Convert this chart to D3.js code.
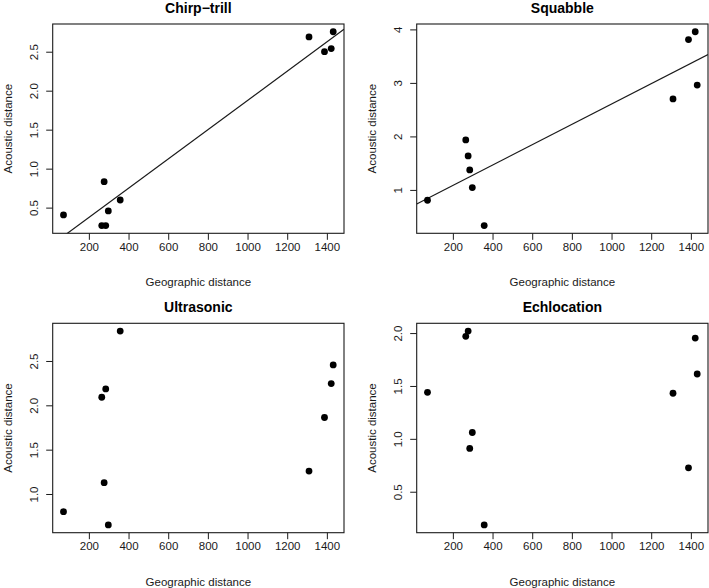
<!DOCTYPE html>
<html>
<head>
<meta charset="utf-8">
<script src="https://cdn.jsdelivr.net/npm/d3@7"></script>
<style>
  html, body { margin: 0; padding: 0; background: #fff; }
  svg { display: block; font-family: "Liberation Sans", Arial, Helvetica, sans-serif; }
</style>
</head>
<body>
<svg id="chart" width="709" height="588"></svg>
<script>
// Geographic distances (shared by all panels)
const geoDist = [72, 265, 277, 285, 298, 358, 1310, 1388, 1422, 1432];

// Acoustic distances per call type
const chirpTrill = [0.406, 0.27, 0.833, 0.27, 0.457, 0.598, 2.69, 2.50, 2.54, 2.756];
const squabble   = [0.807, 1.934, 1.635, 1.373, 1.044, 0.334, 2.70, 3.81, 3.956, 2.96];
const ultrasonic = [0.801, 2.091, 1.128, 2.185, 0.651, 2.8375, 1.259, 1.8625, 2.245, 2.455];
const echlocation = [1.44, 1.969, 2.019, 0.909, 1.060, 0.186, 1.431, 0.726, 1.953, 1.613];

const panelTitles = ["Chirp\u2212trill", "Squabble", "Ultrasonic", "Echlocation"];
const xTicks = [200, 400, 600, 800, 1000, 1200, 1400];
const yTicksChirp = [0.5, 1.0, 1.5, 2.0, 2.5];
const yTicksSquabble = [1, 2, 3, 4];
const yTicksUltra = [1.0, 1.5, 2.0, 2.5];
const yTicksEcho = [0.5, 1.0, 1.5, 2.0];
const showFit = [true, true, false, false];
const xLabel = "Geographic distance";
const yLabel = "Acoustic distance";

const panels = [
  { title: panelTitles[0], y: chirpTrill, yTicks: yTicksChirp, fmt: d3.format(".1f"), fit: showFit[0] },
  { title: panelTitles[1], y: squabble, yTicks: yTicksSquabble, fmt: d3.format("d"), fit: showFit[1] },
  { title: panelTitles[2], y: ultrasonic, yTicks: yTicksUltra, fmt: d3.format(".1f"), fit: showFit[2] },
  { title: panelTitles[3], y: echlocation, yTicks: yTicksEcho, fmt: d3.format(".1f"), fit: showFit[3] }
];

const boxes = [
  { x0: 52.7, x1: 344.0, y0: 24.0, y1: 233.3 },
  { x0: 416.7, x1: 708.0, y0: 24.0, y1: 233.3 },
  { x0: 52.7, x1: 344.0, y0: 323.3, y1: 532.7 },
  { x0: 416.7, x1: 708.0, y0: 323.3, y1: 532.7 }
];

function rExtent(v) {
  const [mn, mx] = d3.extent(v);
  const pad = (mx - mn) * 0.04;
  return [mn - pad, mx + pad];
}

const svg = d3.select("#chart");
const ink = "#1a1a1a";

panels.forEach((p, i) => {
  const b = boxes[i];
  const x = d3.scaleLinear().domain(rExtent(geoDist)).range([b.x0, b.x1]);
  const y = d3.scaleLinear().domain(rExtent(p.y)).range([b.y1, b.y0]);
  const g = svg.append("g");

  const clipId = "clip" + i;
  g.append("clipPath").attr("id", clipId)
    .append("rect").attr("x", b.x0).attr("y", b.y0)
    .attr("width", b.x1 - b.x0).attr("height", b.y1 - b.y0);

  // x axis
  const xa = g.append("g").attr("transform", `translate(0,${b.y1})`)
    .call(d3.axisBottom(x).tickValues(xTicks).tickSize(6.5).tickPadding(3).tickFormat(d3.format("d")));
  xa.select(".domain").remove();
  xa.selectAll("line").attr("stroke", ink);
  xa.selectAll("text").attr("font-size", "11.5px").attr("fill", ink)
    .attr("font-family", "Liberation Sans, Arial, sans-serif");

  // y axis
  const ya = g.append("g").attr("transform", `translate(${b.x0},0)`)
    .call(d3.axisLeft(y).tickValues(p.yTicks).tickSize(6.5).tickFormat(p.fmt));
  ya.select(".domain").remove();
  ya.selectAll("line").attr("stroke", ink);
  ya.selectAll("text")
    .attr("font-size", "11.5px").attr("fill", ink)
    .attr("font-family", "Liberation Sans, Arial, sans-serif")
    .attr("text-anchor", "middle")
    .attr("dy", null)
    .attr("x", null)
    .attr("transform", d => `translate(-15,0) rotate(-90)`)
    .attr("y", 0)
    .attr("dy", "0em");

  // box
  g.append("rect").attr("x", b.x0).attr("y", b.y0)
    .attr("width", b.x1 - b.x0).attr("height", b.y1 - b.y0)
    .attr("fill", "none").attr("stroke", ink).attr("stroke-width", 1.1);

  // regression line
  if (p.fit) {
    const mx = d3.mean(geoDist), my = d3.mean(p.y);
    let sxy = 0, sxx = 0;
    geoDist.forEach((xv, k) => { sxy += (xv - mx) * (p.y[k] - my); sxx += (xv - mx) ** 2; });
    const slope = sxy / sxx, icpt = my - slope * mx;
    const [dx0, dx1] = x.domain();
    g.append("line").attr("clip-path", `url(#${clipId})`)
      .attr("x1", x(dx0)).attr("y1", y(icpt + slope * dx0))
      .attr("x2", x(dx1)).attr("y2", y(icpt + slope * dx1))
      .attr("stroke", ink).attr("stroke-width", 1.2);
  }

  // points
  g.selectAll("circle.pt").data(geoDist.map((xv, k) => [xv, p.y[k]]))
    .join("circle").attr("class", "pt")
    .attr("cx", d => x(d[0])).attr("cy", d => y(d[1]))
    .attr("r", 3.4).attr("fill", "#000");

  // title
  g.append("text").attr("x", (b.x0 + b.x1) / 2).attr("y", b.y0 - 11)
    .attr("text-anchor", "middle").attr("font-weight", "bold")
    .attr("font-size", "14px").attr("fill", "#000").text(p.title);

  // axis titles
  g.append("text").attr("x", (b.x0 + b.x1) / 2).attr("y", b.y1 + 53)
    .attr("text-anchor", "middle").attr("font-size", "11.5px").attr("fill", ink).text(xLabel);
  g.append("text")
    .attr("transform", `translate(${b.x0 - 41},${(b.y0 + b.y1) / 2}) rotate(-90)`)
    .attr("text-anchor", "middle").attr("font-size", "11.5px").attr("fill", ink).text(yLabel);
});
</script>
</body>
</html>
